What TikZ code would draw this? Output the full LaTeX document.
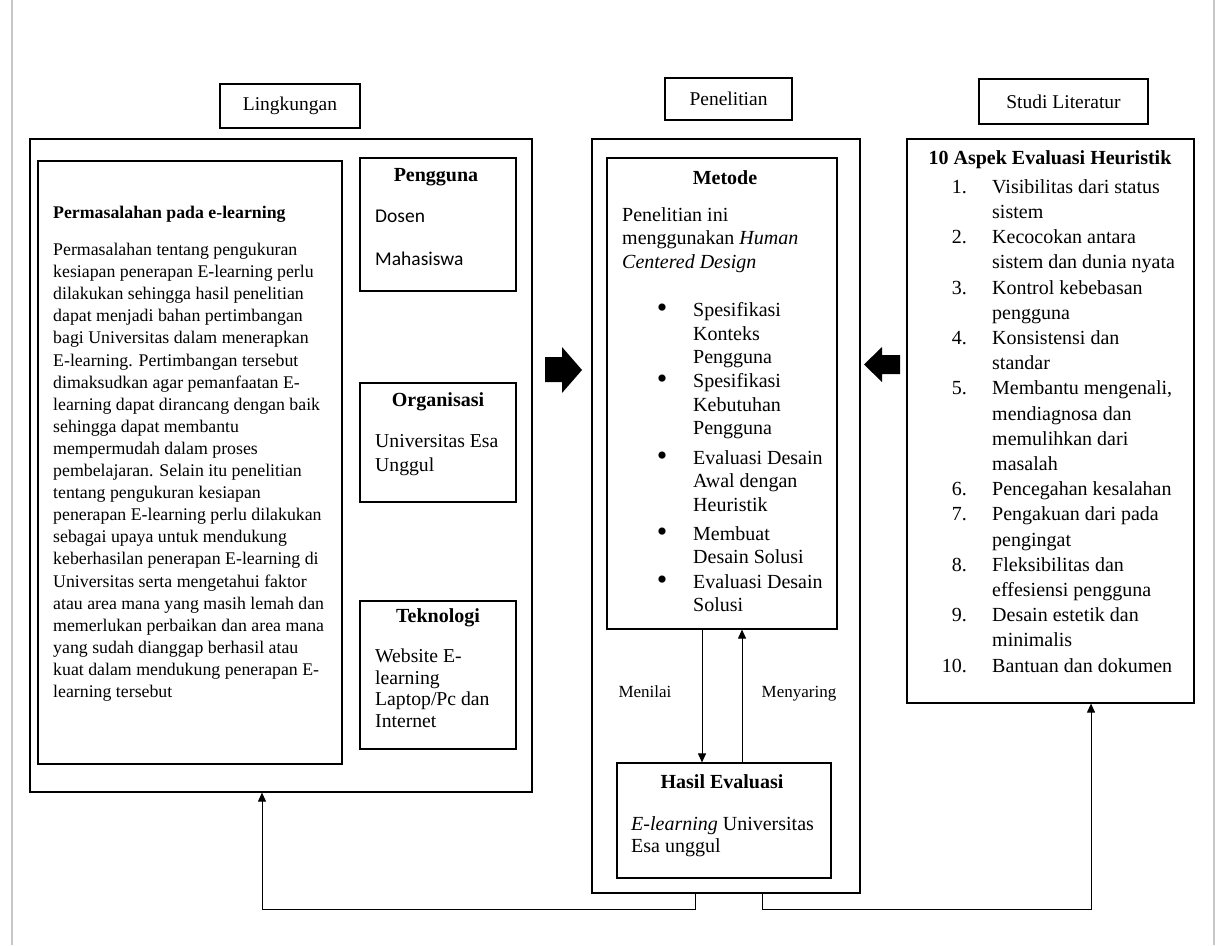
\documentclass[tikz,border=0pt]{standalone}
\usepackage{fontspec}
\setmainfont{Liberation Serif}
\newfontfamily\sansbody{Carlito}
\usetikzlibrary{arrows.meta,positioning,calc}

\newcommand{\fs}[2]{\fontsize{#1}{#2}\selectfont}

\begin{document}
\begin{tikzpicture}[x=1pt,y=-1pt,>={Triangle[length=9pt,width=8pt]},
  frame/.style={draw, line width=1.2pt, inner sep=0pt},
  tag/.style={frame, font=\fs{19.5}{23}},
  txt/.style={inner sep=0pt, align=left, anchor=north west},
  ttl/.style={inner sep=0pt, font=\fs{20}{24}\bfseries},
  conn/.style={->, line width=1pt},
  pageline/.style={draw=black!22, line width=1.5pt}]
\useasboundingbox (0,0) rectangle (1217,945);
\draw[pageline] (12,0) -- (12,945);
\draw[pageline] (1214,0) -- (1214,945);

% labels on top
\node[tag, minimum width=140pt, minimum height=44pt] (lingLbl) at (290,106) {Lingkungan};
\node[tag, minimum width=127pt, minimum height=42pt] (penLbl) at (728.5,99) {Penelitian};
\node[tag, minimum width=169pt, minimum height=45pt] (studiLbl) at (1063.5,101.5) {Studi Literatur};

% Lingkungan
\node[frame, minimum width=502pt, minimum height=653pt] (lingbox) at (281,465.5) {};
\node[frame, minimum width=304pt, minimum height=603pt] (masalah) at (190,462.5) {};
\node[frame, minimum width=156pt, minimum height=133pt] (pengguna) at (438,224.5) {};
\node[frame, minimum width=156pt, minimum height=119pt] (organisasi) at (438,442.5) {};
\node[frame, minimum width=156pt, minimum height=148pt] (teknologi) at (438,675) {};

\node[txt, font=\fs{17.8}{22.1}\bfseries] (masalahT) at (53,206) {Permasalahan pada e-learning};
\node[txt, font=\fs{17.8}{22.1}] (masalahP) at (53,243) {Permasalahan tentang pengukuran\\
kesiapan penerapan E-learning perlu\\
dilakukan sehingga hasil penelitian\\
dapat menjadi bahan pertimbangan\\
bagi Universitas dalam menerapkan\\
E-learning. Pertimbangan tersebut\\
dimaksudkan agar pemanfaatan E-\\
learning dapat dirancang dengan baik\\
sehingga dapat membantu\\
mempermudah dalam proses\\
pembelajaran. Selain itu penelitian\\
tentang pengukuran kesiapan\\
penerapan E-learning perlu dilakukan\\
sebagai upaya untuk mendukung\\
keberhasilan penerapan E-learning di\\
Universitas serta mengetahui faktor\\
atau area mana yang masih lemah dan\\
memerlukan perbaikan dan area mana\\
yang sudah dianggap berhasil atau\\
kuat dalam mendukung penerapan E-\\
learning tersebut};

\node[ttl] (penggunaT) at (436,177) {Pengguna};
\node[txt, font=\sansbody\fs{19.5}{43}] (penggunaP) at (375,209.5) {Dosen\\Mahasiswa};
\node[ttl] (organisasiT) at (438,402) {Organisasi};
\node[txt, font=\fs{19.7}{24}] (organisasiP) at (375,434.5) {Universitas Esa\\Unggul};
\node[ttl] (teknologiT) at (438,618) {Teknologi};
\node[txt, font=\fs{19.7}{21.7}] (teknologiP) at (375,648.5) {Website E-\\learning\\Laptop/Pc dan\\Internet};

% Penelitian
\node[frame, minimum width=268pt, minimum height=754pt] (penbox) at (726,516) {};
\node[frame, minimum width=230pt, minimum height=471pt] (metode) at (722,393.5) {};
\node[frame, minimum width=214pt, minimum height=115pt] (hasil) at (724,820.5) {};

\node[ttl] (metodeT) at (725,178) {Metode};
\node[txt, font=\fs{20}{23.5}] (metodeP) at (622,207.4) {Penelitian ini\\menggunakan \textit{Human}\\\textit{Centered Design}};
\foreach \y/\t [count=\i] in {311/{Spesifikasi\\Konteks\\Pengguna}, 382/{Spesifikasi\\Kebutuhan\\Pengguna},
    459/{Evaluasi Desain\\Awal dengan\\Heuristik}, 535/{Membuat\\Desain Solusi}, 583/{Evaluasi Desain\\Solusi}} {
  \node[inner sep=0pt, font=\fs{30}{30}] (dot\i) at (662,\y) {\textbullet};
  \node[txt, font=\fs{20}{23.5}] (tahap\i) at (693,\y-8.6) {\t};
}

\node[ttl] (hasilT) at (722,782) {Hasil Evaluasi};
\node[txt, font=\fs{20}{22}] (hasilP) at (631,816.4) {\textit{E-learning} Universitas\\Esa unggul};

\draw[conn] ([xshift=-20pt]metode.south) -- ([xshift=-20pt]metode.south |- hasil.north);
\draw[conn] ([xshift=20pt]metode.south |- hasil.north) -- ([xshift=20pt]metode.south);
\node[anchor=base, inner sep=0pt, font=\fs{17}{20}] (menilai) at (645,697) {Menilai};
\node[anchor=base, inner sep=0pt, font=\fs{17}{20}] (menyaring) at (799,697) {Menyaring};

% Studi Literatur
\node[frame, minimum width=287pt, minimum height=564pt] (studibox) at (1050.5,421) {};
\node[ttl] (studiT) at (1050,160) {10 Aspek Evaluasi Heuristik};
\foreach \n/\y/\t in {1/188/{Visibilitas dari status\\sistem}, 2/238.4/{Kecocokan antara\\sistem dan dunia nyata},
    3/288.8/{Kontrol kebebasan\\pengguna}, 4/339.2/{Konsistensi dan\\standar},
    5/389.6/{Membantu mengenali,\\mendiagnosa dan\\memulihkan dari\\masalah}, 6/490.4/{Pencegahan kesalahan},
    7/515.6/{Pengakuan dari pada\\pengingat}, 8/566/{Fleksibilitas dan\\effesiensi pengguna},
    9/616.4/{Desain estetik dan\\minimalis}, 10/666.8/{Bantuan dan dokumen}} {
  \node[txt, anchor=north east, font=\fs{20}{25.2}] (no\n) at (967,\y-12.6) {\strut\n.};
  \node[txt, font=\fs{20}{25.2}] (aspek\n) at (992,\y-12.6) {\strut\t};
}

% block arrows
\fill (545,357) -- (562,357) -- (562,347) -- (582,370) -- (562,393) -- (562,382) -- (545,382) -- cycle;
\fill (900,355) -- (882,355) -- (882,347) -- (864,364.5) -- (882,382) -- (882,374) -- (900,374) -- cycle;

% feedback lines
\draw[conn] ([xshift=-31pt]penbox.south) -- ++(0,16) -| ([xshift=-19pt]lingbox.south);
\draw[conn] ([xshift=36pt]penbox.south) -- ++(0,16) -| ([xshift=40.5pt]studibox.south);
\end{tikzpicture}
\end{document}
